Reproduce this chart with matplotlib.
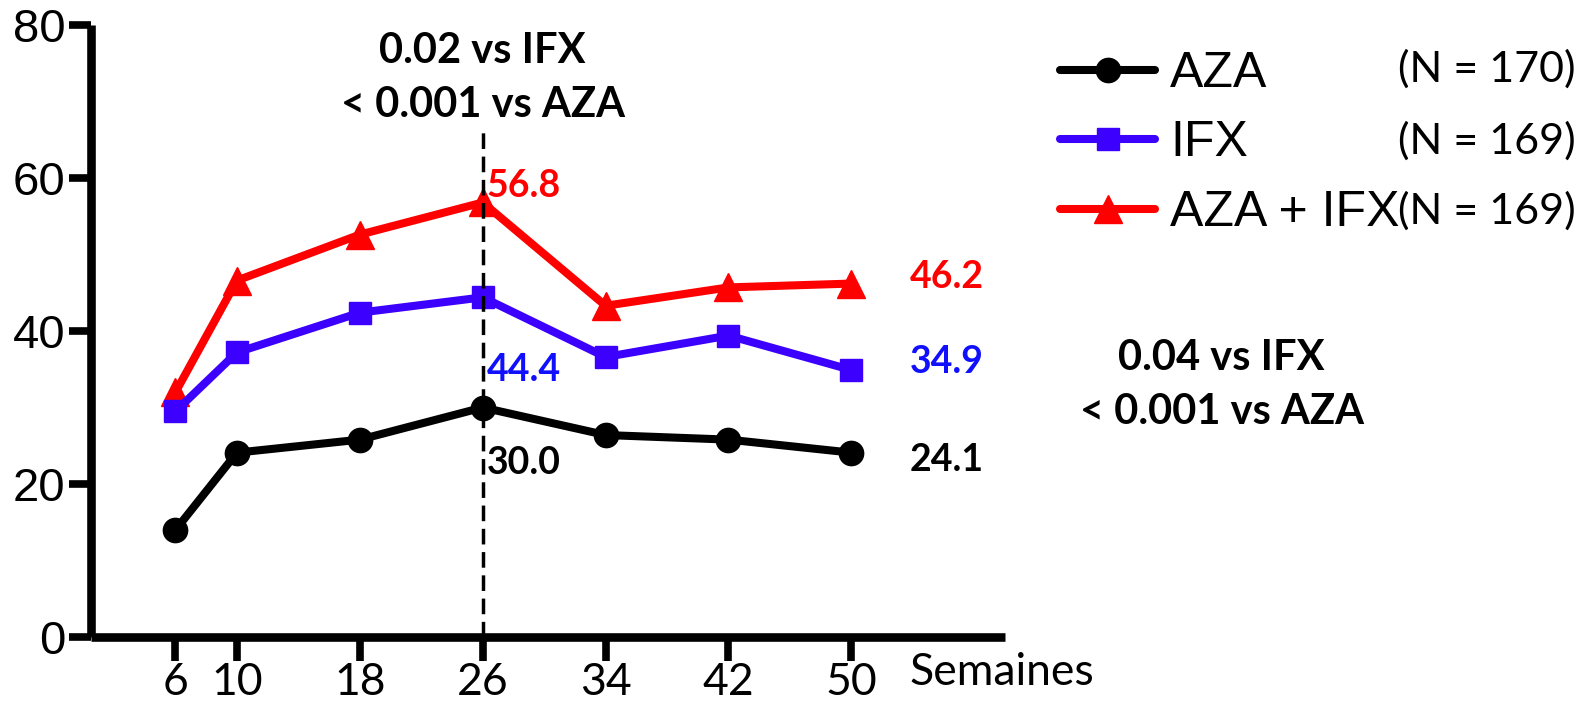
import matplotlib.pyplot as plt

# remission rate (%) per visit week
weeks = [6, 10, 18, 26, 34, 42, 50]
aza = [14.0, 24.1, 25.8, 30.0, 26.4, 25.8, 24.1]
ifx = [29.5, 37.2, 42.4, 44.4, 36.6, 39.4, 34.9]
aza_ifx = [32.0, 46.6, 52.6, 56.8, 43.3, 45.7, 46.2]

groups = ['AZA', 'IFX', 'AZA + IFX']
group_n = [170, 169, 169]
yticks = [0, 20, 40, 60, 80]

SANS = 'Liberation Sans'
CAL = 'Lato'

fig = plt.figure(figsize=(15.96, 7.03), dpi=100)
ax = fig.add_axes([91 / 1596, 1 - 637 / 703, (1005 - 91) / 1596, (637 - 25) / 703])

# vertical marker at week 26, drawn over the series
ax.plot([26, 26], [0, 66], color='black', lw=2.5, ls=(0, (4.5, 2.2)), zorder=6)

styles = [
    dict(color='black', marker='o', ms=17.5, zorder=5),
    dict(color='#3c00ff', marker='s', ms=16.5, zorder=4),
    dict(color='#ff0000', marker='^', ms=19.5, zorder=3),
]
handles = []
for vals, st in zip([aza, ifx, aza_ifx], styles):
    h, = ax.plot(weeks, vals, lw=5.8, solid_capstyle='round',
                 clip_on=False, **st)
    handles.append(h)

# value labels at week 26 and week 50
label_colors = ['black', '#1010ff', '#ff0000']
offsets = [((4, -55), (58, -7)), ((4, -73), (58, 8)), ((4, 16), (58, 7))]
for vals, col, offs in zip([aza, ifx, aza_ifx], label_colors, offsets):
    for wk, off in zip([26, 50], offs):
        i = weeks.index(wk)
        ax.annotate(f'{vals[i]:.1f}', (wk, vals[i]), xytext=off,
                    textcoords='offset pixels', ha='left', va='center',
                    color=col, fontsize=27, fontweight='bold', family=CAL,
                    annotation_clip=False)

# p-values
pkw = dict(ha='center', va='center', fontsize=30, fontweight='bold',
           family=CAL, clip_on=False)
ax.text(26, 76.6, '0.02 vs IFX', **pkw)
ax.text(26, 69.5, '< 0.001 vs AZA', **pkw)
ax.text(74.1, 36.5, '0.04 vs IFX', **pkw)
ax.text(74.1, 29.4, '< 0.001 vs AZA', **pkw)

ax.set_xlim(0.5, 60)
ax.set_ylim(0, 80)
ax.set_xticks(weeks)
ax.set_yticks(yticks)
for s in ['top', 'right']:
    ax.spines[s].set_visible(False)
for s in ['left', 'bottom']:
    ax.spines[s].set_linewidth(6.2)
    ax.spines[s].set_capstyle('butt')
ax.tick_params(axis='y', length=15.5, width=5.5, pad=3, labelsize=34)
ax.tick_params(axis='x', length=17, width=5.5, pad=1, labelsize=32)
for t in ax.get_yticklabels():
    t.set_family(SANS)
for t in ax.get_xticklabels():
    t.set_family(CAL)

ax.text(53.8, -0.058, 'Semaines', ha='left', va='center', fontsize=32,
        family=CAL, clip_on=False, transform=ax.get_xaxis_transform())

# legend with group sizes alongside
fig.legend(handles, groups, loc='upper left',
           bbox_to_anchor=(1060 / 1596, 1 - 51 / 703),
           frameon=False, prop={'family': SANS, 'size': 36},
           handlelength=1.9, handletextpad=0.3, labelspacing=0.47,
           borderpad=0, borderaxespad=0)
for n, yp in zip(group_n, [69, 141, 211]):
    fig.text(1576 / 1596, 1 - yp / 703, f'(N = {n})', ha='right', va='center',
             fontsize=31, family=CAL)

fig.savefig('out.png', dpi=100)
